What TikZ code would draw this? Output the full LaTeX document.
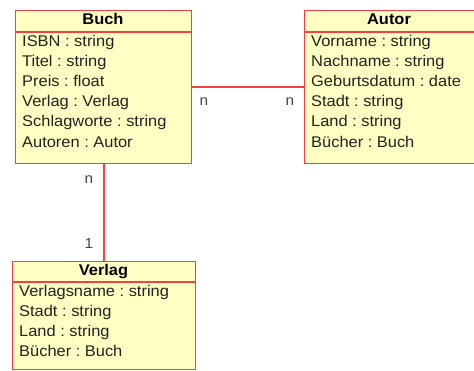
\documentclass[tikz,border=0pt]{standalone}
\usepackage{fontspec}
\setmainfont{Liberation Sans}[FakeStretch=1.06]
\frenchspacing
\definecolor{boxfill}{HTML}{FFFFC4}
\definecolor{boxline}{HTML}{F44040}
\definecolor{txt}{HTML}{222222}
\definecolor{mult}{HTML}{444444}
\tikzset{
  umlbox/.style={draw=boxline, fill=boxfill, line width=1.3pt, rectangle, inner sep=0pt, anchor=north west},
  sepline/.style={draw=boxline, line width=1.3pt},
  assoc/.style={draw=boxline, line width=1.3pt},
  head/.style={font=\fontsize{15.5}{17}\selectfont\bfseries, text=black, inner sep=0pt, anchor=mid},
  attr/.style={font=\fontsize{15.5}{17}\selectfont, text=txt, inner sep=0pt, anchor=mid west},
  multl/.style={font=\fontsize{14.5}{17}\selectfont, text=mult, inner sep=0pt, anchor=mid}
}
\begin{document}
\begin{tikzpicture}[x=1pt,y=-1pt]
\useasboundingbox (0,0) rectangle (474,370);
\clip (0,0) rectangle (474,370);
% boxes
\node[umlbox, minimum width=176pt, minimum height=153pt] (buch) at (15,10) {};
\node[umlbox, minimum width=180pt, minimum height=153pt] (autor) at (304,10) {};
\node[umlbox, minimum width=183pt, minimum height=108pt] (verlag) at (12,261) {};
% header separators
\draw[sepline] ([yshift=-22pt]buch.north west) -- ([yshift=-22pt]buch.north east);
\draw[sepline] ([yshift=-22pt]autor.north west) -- ([yshift=-22pt]autor.north east);
\draw[sepline] ([yshift=-21pt]verlag.north west) -- ([yshift=-21pt]verlag.north east);
% connectors
\draw[assoc] (buch.east |- 0,87) -- (autor.west |- 0,87);
\draw[assoc] (104,163) coordinate (bs) -- (bs |- verlag.north);
% headers
\node[head] (hb) at (103,21.5) {Buch};
\node[head] (ha) at (389,21.5) {Autor};
\node[head] (hv) at (103.5,272.5) {Verlag};
% Buch attributes
\node[attr] (b1) at (22,43.5) {ISBN : string};
\node[attr] (b2) at (22,63.5) {Titel : string};
\node[attr] (b3) at (22,83.5) {Preis : float};
\node[attr] (b4) at (22,103.5) {Verlag : Verlag};
\node[attr] (b5) at (22,124) {Schlagworte : string};
\node[attr] (b6) at (22,144.5) {Autoren : Autor};
% Autor attributes
\node[attr] (a1) at (311,43.5) {Vorname : string};
\node[attr] (a2) at (311,63.5) {Nachname : string};
\node[attr] (a3) at (311,83.5) {Geburtsdatum : date};
\node[attr] (a4) at (311,103.5) {Stadt : string};
\node[attr] (a5) at (311,124) {Land : string};
\node[attr] (a6) at (311,144.5) {Bücher : Buch};
% Verlag attributes
\node[attr] (v1) at (19,293.5) {Verlagsname : string};
\node[attr] (v2) at (19,313.5) {Stadt : string};
\node[attr] (v3) at (19,333.5) {Land : string};
\node[attr] (v4) at (19,353.5) {Bücher : Buch};
% multiplicities
\node[multl] (m1) at (204,103) {n};
\node[multl] (m2) at (290,103) {n};
\node[multl] (m3) at (89,181) {n};
\node[multl] (m4) at (89,246) {1};
\end{tikzpicture}
\end{document}
